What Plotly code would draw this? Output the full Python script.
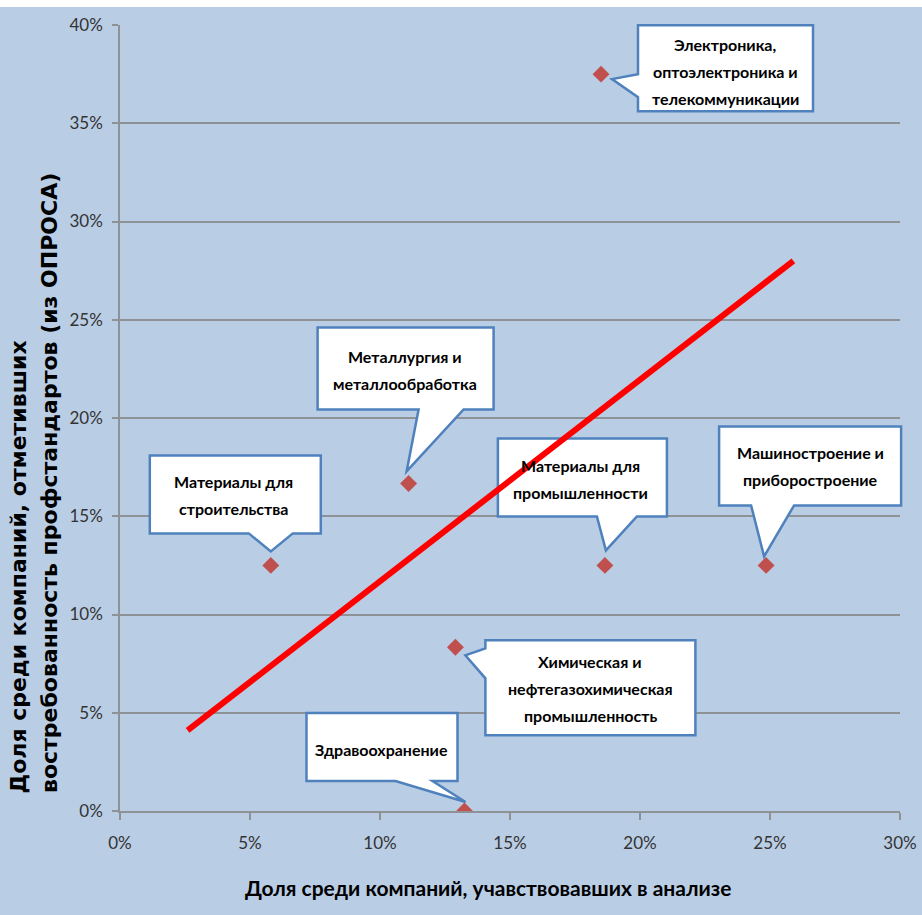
import plotly.graph_objects as go

# Industry sectors: share among analysed companies (x) vs share of survey
# respondents that reported demand for professional standards (y), in %.
sectors = [
    "Электроника, оптоэлектроника и телекоммуникации",
    "Металлургия и металлообработка",
    "Материалы для строительства",
    "Материалы для промышленности",
    "Машиностроение и приборостроение",
    "Химическая и нефтегазохимическая промышленность",
    "Здравоохранение",
]
share_analysis = [18.5, 11.1, 5.8, 18.65, 24.85, 12.9, 13.25]
share_survey = [37.5, 16.67, 12.5, 12.5, 12.5, 8.33, 0.0]

# Text of each callout, line by line
callout_lines = [
    ["Электроника,", "оптоэлектроника и", "телекоммуникации"],
    ["Металлургия и", "металлообработка"],
    ["Материалы для", "строительства"],
    ["Материалы для", "промышленности"],
    ["Машиностроение и", "приборостроение"],
    ["Химическая и", "нефтегазохимическая", "промышленность"],
    ["Здравоохранение"],
]

# Reference line
trend_x = [2.6, 25.9]
trend_y = [4.1, 28.0]

x_ticks = [0, 5, 10, 15, 20, 25, 30]
y_ticks = [0, 5, 10, 15, 20, 25, 30, 35, 40]
x_range = [0, 30]
y_range = [0, 40]

# Callout geometry in screen pixels relative to the marker (x right, y down):
# box (left, top, right, bottom), tail side, tail base (a, b), tip (dx, dy),
# text centre x, first line centre y.
callout_geom = [
    dict(box=(37, -49, 212, 37), side="left", base=(0, 23), tip=(11, 5), tx=124, ty=-30),
    dict(box=(-91, -156, 85, -74), side="bottom", base=(10, 55), tip=(-2, -12), tx=-4, ty=-127),
    dict(box=(-121, -110, 50, -32), side="bottom", base=(-22, 22), tip=(0, -14), tx=-37, ty=-84),
    dict(box=(-107, -127, 62, -49), side="bottom", base=(-8, 32), tip=(1, -15), tx=-24, ty=-100),
    dict(box=(-47, -139, 135, -60), side="bottom", base=(-15, 28), tip=(-2, -9), tx=44, ty=-113),
    dict(box=(30, -7, 240, 88), side="left", base=(1, 31), tip=(10, 8), tx=135, ty=14),
    dict(box=(-158, -98, -7, -30), side="bottom", base=(-69, -32), tip=(1, -9), tx=-83, ty=-62),
]
LINE_STEP = 27

BG = "#B9CDE5"
GRID = "#8E9196"
MARKER = "#C0504D"
BOX_LINE = "#4F81BD"
NARROW = "Lato, Roboto, sans-serif"
WIDE = "DejaVu Sans, Verdana, sans-serif"


def callout_path(g):
    l, t, r, b = g["box"]
    a1, a2 = g["base"]
    tx, ty = g["tip"]
    if g["side"] == "bottom":
        pts = [(l, t), (r, t), (r, b), (a2, b), (tx, ty), (a1, b), (l, b)]
    else:
        pts = [(l, t), (r, t), (r, b), (l, b), (l, a2), (tx, ty), (l, a1)]
    # pixel sizemode: y grows upwards
    return "M " + " L ".join(f"{x},{-y}" for x, y in pts) + " Z"


def to_paper(v, rng):
    return (v - rng[0]) / (rng[1] - rng[0])


fig = go.Figure()

fig.add_trace(go.Scatter(
    x=share_analysis, y=share_survey, mode="markers",
    marker=dict(symbol="diamond", size=13, color=MARKER, line=dict(width=0)),
    text=sectors, hoverinfo="text", showlegend=False,
))

shapes = []
annotations = []
for xv, yv, lines, g in zip(share_analysis, share_survey, callout_lines, callout_geom):
    shapes.append(dict(
        type="path", xref="paper", yref="paper",
        xsizemode="pixel", ysizemode="pixel",
        xanchor=to_paper(xv, x_range), yanchor=to_paper(yv, y_range),
        path=callout_path(g),
        fillcolor="white", line=dict(color=BOX_LINE, width=2.5), layer="above",
    ))
    for i, line in enumerate(lines):
        annotations.append(dict(
            x=xv, y=yv, xref="x", yref="y", text=line, showarrow=False,
            xanchor="center", yanchor="middle",
            xshift=g["tx"], yshift=-(g["ty"] + i * LINE_STEP),
            font=dict(family=NARROW, size=16, color="black", weight="bold"),
        ))

# Reference line drawn over the callouts
shapes.append(dict(
    type="line", xref="x", yref="y",
    x0=trend_x[0], y0=trend_y[0], x1=trend_x[1], y1=trend_y[1],
    line=dict(color="#FF0000", width=6), layer="above",
))

# White strip along the top edge of the page
shapes.insert(0, dict(
    type="rect", xref="paper", yref="paper",
    x0=-0.2, x1=1.1, y0=1.0229, y1=1.06,
    fillcolor="white", line=dict(width=0), layer="above",
))

# Axis titles
annotations.append(dict(
    x=0.4718, y=-0.0967, xref="paper", yref="paper", showarrow=False,
    text="Доля среди компаний, учавствовавших в анализе",
    xanchor="center", yanchor="middle",
    font=dict(family=NARROW, size=21, color="black", weight="bold"),
))
annotations.append(dict(
    x=-0.1308, y=0.0204, xref="paper", yref="paper", showarrow=False,
    text="Доля среди компаний, отметивших", textangle=-90,
    xanchor="center", yanchor="bottom",
    font=dict(family=WIDE, size=22, color="black", weight="bold"),
))
annotations.append(dict(
    x=-0.0897, y=0.0204, xref="paper", yref="paper", showarrow=False,
    text="востребованность профстандартов (из ОПРОСА)", textangle=-90,
    xanchor="center", yanchor="bottom",
    font=dict(family=WIDE, size=22, color="black", weight="bold"),
))

tick_font = dict(family=NARROW, size=17, color="#333333")

fig.update_layout(
    width=922, height=915, autosize=False,
    margin=dict(l=120, r=22, t=25, b=104),
    paper_bgcolor=BG, plot_bgcolor=BG,
    shapes=shapes, annotations=annotations,
    xaxis=dict(
        range=x_range, tickvals=x_ticks, ticktext=[f"{v}%" for v in x_ticks],
        showgrid=False, zeroline=False, showline=True, linecolor=GRID, linewidth=1.5,
        ticks="outside", ticklen=7, tickwidth=1.5, tickcolor=GRID,
        tickfont=tick_font, ticklabelstandoff=9, automargin=False,
    ),
    yaxis=dict(
        range=y_range, tickvals=y_ticks, ticktext=[f"{v}%" for v in y_ticks],
        showgrid=True, gridcolor=GRID, gridwidth=1.5, zeroline=False,
        showline=True, linecolor=GRID, linewidth=1.5,
        ticks="outside", ticklen=6, tickwidth=1.5, tickcolor=GRID,
        tickfont=tick_font, ticklabelstandoff=6, automargin=False,
    ),
    hovermode="closest",
)

fig.write_html("out.html")
